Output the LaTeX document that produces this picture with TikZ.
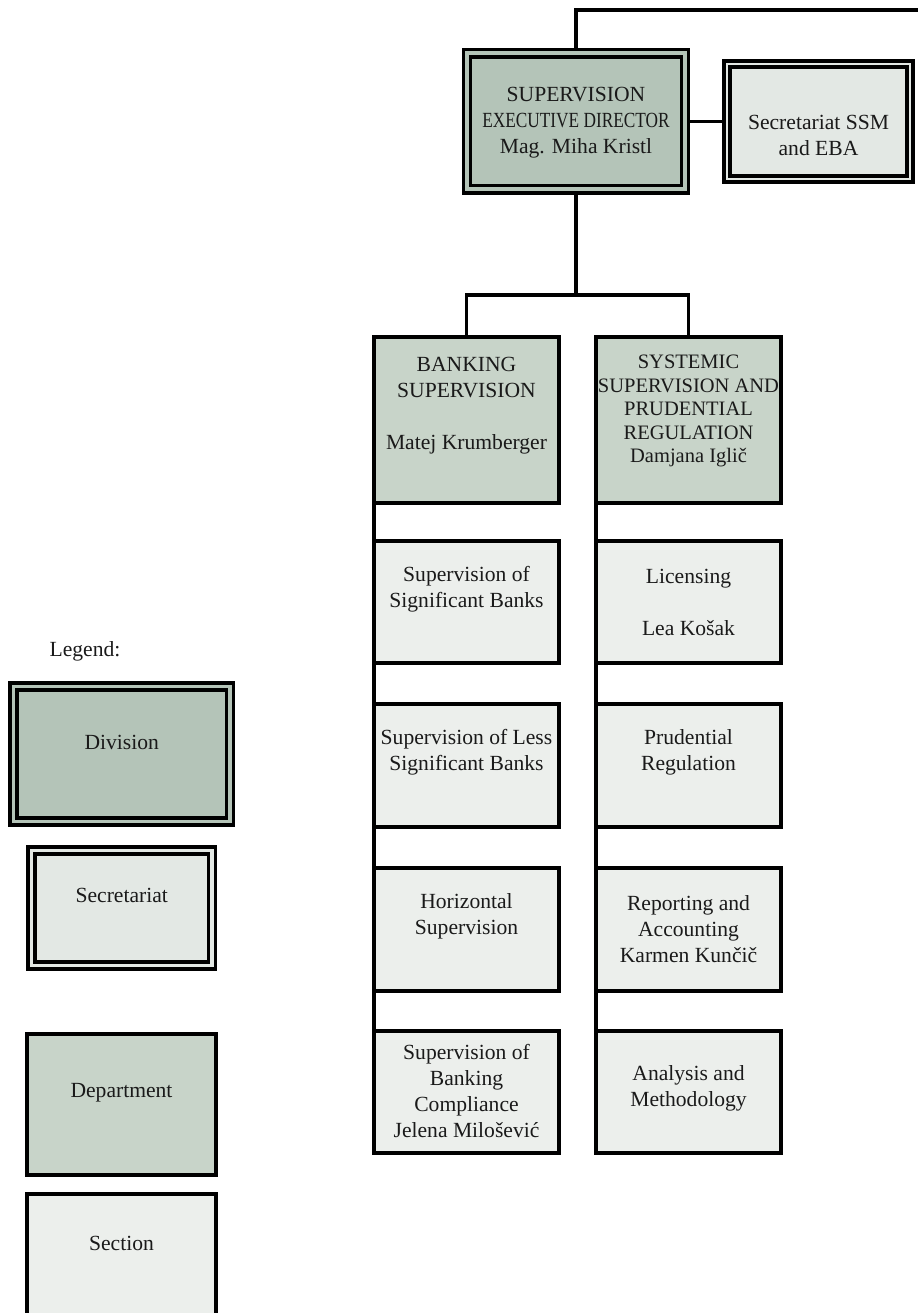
\documentclass[tikz,border=0pt]{standalone}
\usepackage{fontspec}
\setmainfont{Liberation Serif}
\usepackage{graphicx}
\pgfdeclarelayer{bg}
\pgfsetlayers{bg,main}
\definecolor{divfill}{HTML}{B4C4B8}
\definecolor{depfill}{HTML}{C8D4C9}
\definecolor{secfill}{HTML}{E3E8E4}
\definecolor{sectfill}{HTML}{ECEFEC}
\definecolor{ink}{HTML}{1A1A1A}
\tikzset{
  box/.style={draw=black, line width=3.2pt, inner sep=0pt, outer sep=0pt},
  divbox/.style={box, fill=divfill, double=divfill, double distance=4pt},
  secrbox/.style={box, fill=secfill, double=secfill, double distance=2.8pt},
  depbox/.style={box, fill=depfill},
  sectbox/.style={box, fill=sectfill},
  lbl/.style={font=\fontsize{21.6}{26}\selectfont, text=ink, align=center, inner sep=0pt},
  slbl/.style={font=\fontsize{20.5}{23.5}\selectfont, text=ink, align=center, inner sep=0pt},
  conn/.style={draw=black, line width=3.2pt}
}
\begin{document}
\begin{tikzpicture}[x=1pt,y=-1pt]
\useasboundingbox (0,0) rectangle (918,1313);

% top level
\node[divbox, minimum width=217.5pt, minimum height=136pt] (dir) at (576,121.5) {};
\node[lbl] (dirt) at (576,123) {SUPERVISION\\\scalebox{0.8}[1]{EXECUTIVE DIRECTOR}\\Mag. Miha Kristl};
\node[secrbox, minimum width=183pt, minimum height=115pt] (sec) at (818.5,121.5) {};
\node[lbl] (sect) at (818.5,135) {Secretariat SSM\\and EBA};
\coordinate (topend) at (918,10);

% departments
\node[depbox, minimum width=185pt, minimum height=166pt] (bank) at (466.5,420) {};
\node[lbl] (bankt) at (466.5,406) {BANKING\\SUPERVISION\\[26pt]Matej Krumberger};
\node[depbox, minimum width=185pt, minimum height=166pt] (sys) at (688.5,420) {};
\node[slbl] (syst) at (688.5,411) {SYSTEMIC\\SUPERVISION AND\\PRUDENTIAL\\REGULATION\\Damjana Igli\v{c}};

% left column sections
\node[sectbox, minimum width=185pt, minimum height=122pt] (l1) at (466.5,602) {};
\node[lbl] at (466.5,589.5) {Supervision of\\Significant Banks};
\node[sectbox, minimum width=185pt, minimum height=123pt] (l2) at (466.5,765.5) {};
\node[lbl] at (466.5,752.5) {Supervision of Less\\Significant Banks};
\node[sectbox, minimum width=185pt, minimum height=123pt] (l3) at (466.5,929.5) {};
\node[lbl] at (466.5,916) {Horizontal\\Supervision};
\node[sectbox, minimum width=185pt, minimum height=122pt] (l4) at (466.5,1092) {};
\node[lbl] at (466.5,1090.5) {Supervision of\\Banking\\Compliance\\Jelena Milo\v{s}evi\'{c}};

% right column sections
\node[sectbox, minimum width=185pt, minimum height=122pt] (r1) at (688.5,602) {};
\node[lbl] at (688.5,602.5) {Licensing\\[26pt]Lea Ko\v{s}ak};
\node[sectbox, minimum width=185pt, minimum height=123pt] (r2) at (688.5,765.5) {};
\node[lbl] at (688.5,752.5) {Prudential\\Regulation};
\node[sectbox, minimum width=185pt, minimum height=123pt] (r3) at (688.5,929.5) {};
\node[lbl] at (688.5,929) {Reporting and\\Accounting\\Karmen Kun\v{c}i\v{c}};
\node[sectbox, minimum width=185pt, minimum height=122pt] (r4) at (688.5,1092) {};
\node[lbl] at (688.5,1088) {Analysis and\\Methodology};

% legend
\node[lbl] (leg) at (85,651) {Legend:};
\node[divbox, minimum width=216.5pt, minimum height=135pt, double distance=3.8pt] (ldiv) at (121.75,754) {};
\node[lbl] at (121.75,742) {Division};
\node[secrbox, minimum width=180.5pt, minimum height=115pt, double distance=3.8pt] (lsec) at (121.75,908) {};
\node[lbl] at (121.75,895) {Secretariat};
\node[depbox, minimum width=189pt, minimum height=141pt] (ldep) at (121.5,1104.5) {};
\node[lbl] at (121.5,1093) {Department};
\node[sectbox, minimum width=189pt, minimum height=140pt] (lsct) at (121.5,1264) {};
\node[lbl] at (121.5,1243) {Section};

% connectors
\begin{pgfonlayer}{bg}
\draw[conn] (dir.north) |- (topend);
\draw[conn] (dir.east) -- (sec.west);
\coordinate (j) at (576,295);
\draw[conn] (dir.south) -- (j);
\draw[conn] (bank.north) |- (j) -| (sys.north);
\draw[conn] (bank.south west) -- (l1.north west);
\draw[conn] (l1.south west) -- (l2.north west);
\draw[conn] (l2.south west) -- (l3.north west);
\draw[conn] (l3.south west) -- (l4.north west);
\draw[conn] (sys.south west) -- (r1.north west);
\draw[conn] (r1.south west) -- (r2.north west);
\draw[conn] (r2.south west) -- (r3.north west);
\draw[conn] (r3.south west) -- (r4.north west);
\end{pgfonlayer}
\end{tikzpicture}
\end{document}
